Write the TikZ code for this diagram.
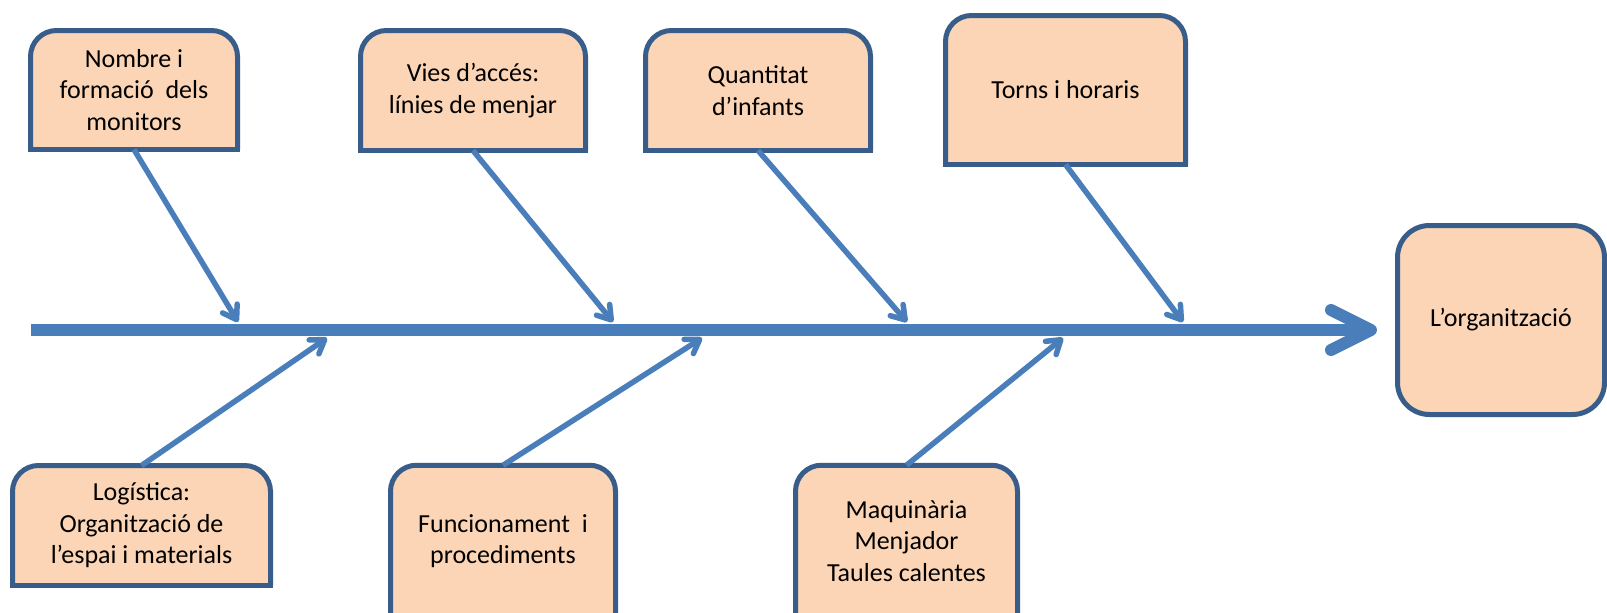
\documentclass[tikz,border=0pt]{standalone}
\usepackage{fontspec}
\setmainfont{Carlito}
\usetikzlibrary{arrows.meta}
\pgfdeclarelayer{background}
\pgfsetlayers{background,main}
\definecolor{peach}{HTML}{FBD5B5}
\definecolor{edgeblue}{HTML}{385D8A}
\definecolor{boneblue}{HTML}{4A7EBB}

\begin{document}
\begin{tikzpicture}[x=1pt, y=-1pt,
    cause/.style={inner sep=0pt, outer sep=0pt, align=center, font=\fontsize{26pt}{31.5pt}\selectfont},
    box/.style={fill=peach, draw=edgeblue, line width=5pt, rounded corners=26pt},
    boxbottom/.style={draw=edgeblue, line width=5pt, line cap=rect},
    bone/.style={draw=boneblue, line width=5.5pt, -{Straight Barb[length=13pt, width=17pt, round]}},
    spine/.style={draw=boneblue, line width=12pt, -{Straight Barb[length=40pt, width=40pt, round]}}
]
\useasboundingbox (0,0) rectangle (1607,613);

% causes above the spine
\node[cause, minimum width=207pt, minimum height=119pt] (monitors) at (134,90) {Nombre i\\formació~ dels\\monitors};
\node[cause, minimum width=225pt, minimum height=120pt] (vies) at (473,90.5) {Vies d’accés:\\línies de menjar};
\node[cause, minimum width=225pt, minimum height=120pt] (infants) at (758,90.5) {Quantitat\\d’infants};
\node[cause, minimum width=240pt, minimum height=149pt] (torns) at (1065.5,90) {Torns i horaris};

% causes below the spine
\node[cause, minimum width=258pt, minimum height=120pt] (logistica) at (141.5,525.5) {Logística:\\Organització de\\l’espai i materials};
\node[cause, minimum width=225pt, minimum height=151.5pt] (funcionament) at (503,541) {Funcionament~ i\\procediments};
\node[cause, minimum width=222pt, minimum height=151.5pt] (maquinaria) at (906.5,541) {Maquinària\\Menjador\\Taules calentes};

% effect
\node[cause, box, rounded corners=32pt, minimum width=207pt, minimum height=189pt] (org) at (1501,320) {L’organització};

\begin{pgfonlayer}{background}
\foreach \n in {monitors,vies,infants,torns,logistica,funcionament,maquinaria} {
  \filldraw[box] (\n.south west) -- (\n.north west) -- (\n.north east) -- (\n.south east);
  \draw[boxbottom] (\n.south west) -- (\n.south east);
}
\end{pgfonlayer}

% spine
\coordinate (tail) at (31,330);
\coordinate (head) at (1377,330);
\draw[spine] (tail) -- (head);

% where the bones meet the spine
\coordinate (j1) at (238,322);
\coordinate (j2) at (613,322);
\coordinate (j3) at (907,322);
\coordinate (j4) at (1183,322);
\coordinate (k1) at (327,338);
\coordinate (k2) at (702,338);
\coordinate (k3) at (1063,338);

\draw[bone] (monitors.south) -- (j1);
\draw[bone] (vies.south) -- (j2);
\draw[bone] (infants.south) -- (j3);
\draw[bone] (torns.south) -- (j4);
\draw[bone] (logistica.north) -- (k1);
\draw[bone] (funcionament.north) -- (k2);
\draw[bone] (maquinaria.north) -- (k3);
\end{tikzpicture}
\end{document}
